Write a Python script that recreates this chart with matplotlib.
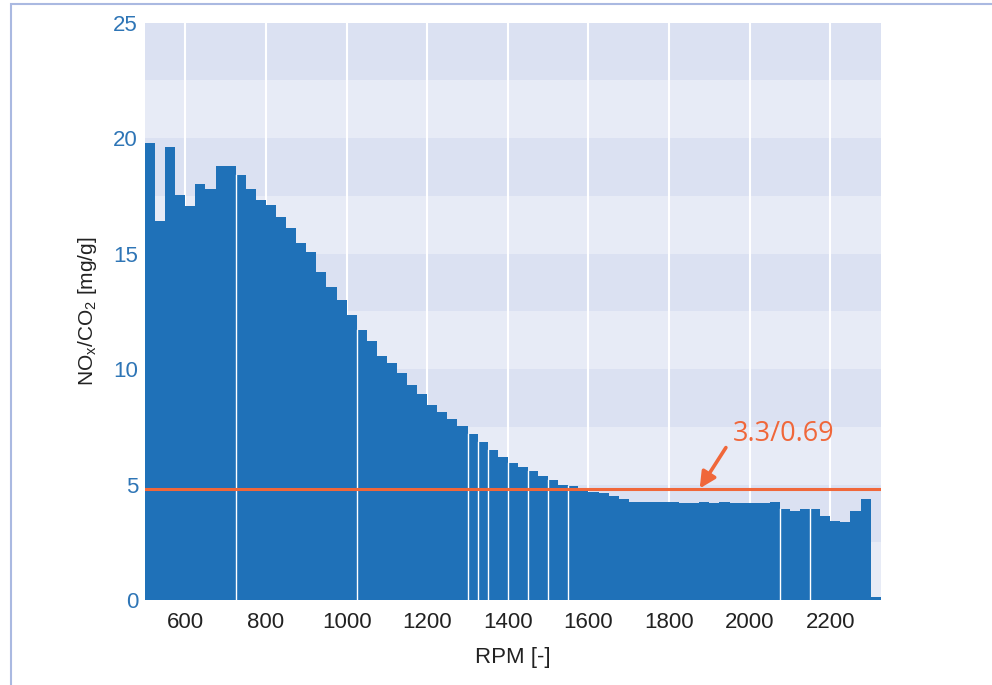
import matplotlib
matplotlib.use("Agg")
import matplotlib.pyplot as plt
from matplotlib.patches import Rectangle
import numpy as np

# bins of 25 rpm starting at 500 rpm
bin_start = 500
bin_width = 25
nox_co2 = [
    19.8, 16.4, 19.6, 17.55, 17.05, 18.0, 17.8, 18.8, 18.8, 18.4,
    17.8, 17.3, 17.1, 16.6, 16.1, 15.45, 15.05, 14.2, 13.55, 13.0,
    12.35, 11.7, 11.2, 10.55, 10.25, 9.85, 9.3, 8.9, 8.45, 8.15,
    7.85, 7.55, 7.2, 6.85, 6.5, 6.2, 5.95, 5.75, 5.6, 5.35,
    5.2, 4.97, 4.93, 4.76, 4.67, 4.62, 4.5, 4.37, 4.24, 4.24,
    4.24, 4.24, 4.24, 4.2, 4.2, 4.24, 4.2, 4.24, 4.2, 4.2,
    4.2, 4.2, 4.24, 3.95, 3.85, 3.95, 3.95, 3.63, 3.42, 3.38,
    3.85, 4.37, 0.12,
]
# bin edges (index) where the original shows a thin white seam between bars
seam_edges = [9, 21, 32, 33, 34, 36, 38, 40, 42, 63, 66]

limit_value = 4.8
limit_label = "3.3/0.69"
x_ticks = [600, 800, 1000, 1200, 1400, 1600, 1800, 2000, 2200]
y_ticks = [0, 5, 10, 15, 20, 25]

bar_color = "#1f71b8"
band_dark = "#dbe1f2"
band_light = "#e7ebf6"
red = "#f0673a"
tick_blue = "#2e75b6"

plt.rcParams["font.family"] = ["Liberation Sans", "DejaVu Sans"]
plt.rcParams["mathtext.default"] = "regular"

n = len(nox_co2)
left = bin_start + bin_width * np.arange(n)

fig = plt.figure(figsize=(9.92, 6.85), dpi=100)
ax = fig.add_axes([0.1462, 0.1241, 0.7416, 0.8428])

# alternating horizontal bands every 2.5
for i, y0 in enumerate(np.arange(0, 25, 2.5)):
    ax.axhspan(y0, y0 + 2.5, color=band_light if i % 2 == 0 else band_dark,
               lw=0, zorder=0)
for xt in x_ticks:
    ax.axvline(xt, color="white", lw=1.5, zorder=1)

ax.bar(left, nox_co2, width=bin_width, align="edge", color=bar_color,
       lw=0, zorder=2)
for k in seam_edges:
    ax.plot([left[k], left[k]], [0, min(nox_co2[k - 1], nox_co2[k])],
            color="white", lw=1.0, zorder=3)

ax.axhline(limit_value, color=red, lw=2.2, zorder=4)
ax.annotate("", xy=(1876, limit_value + 0.03), xytext=(1941, 6.6),
            arrowprops=dict(arrowstyle="-|>", color=red, lw=2.6,
                            mutation_scale=24, shrinkA=0, shrinkB=0),
            zorder=5)
ax.text(2084, 7.2, limit_label, color=red, fontsize=19.5, ha="center",
        va="center", family=["Open Sans", "DejaVu Sans"], zorder=5)

ax.set_xlim(bin_start, bin_start + bin_width * n)
ax.set_ylim(0, 25)
ax.set_xticks(x_ticks)
ax.set_yticks(y_ticks)
ax.tick_params(axis="both", length=0, labelsize=16)
ax.tick_params(axis="x", pad=9, labelcolor="#222222")
ax.tick_params(axis="y", pad=5, labelcolor=tick_blue)
for s in ax.spines.values():
    s.set_visible(False)

ax.set_xlabel("RPM [-]", fontsize=16, color="#222222", labelpad=10)
ax.set_ylabel("NO$_x$/CO$_2$ [mg/g]", fontsize=15, color="#222222",
              labelpad=10)

# light frame around the figure (only top and left edges show)
fig.patches.append(Rectangle((11 / 992, -0.1), 1.2, 1.1 - 3.5 / 685,
                             transform=fig.transFigure, fill=False,
                             edgecolor="#aab9e1", lw=1.5))

fig.savefig("out.png", dpi=100)
